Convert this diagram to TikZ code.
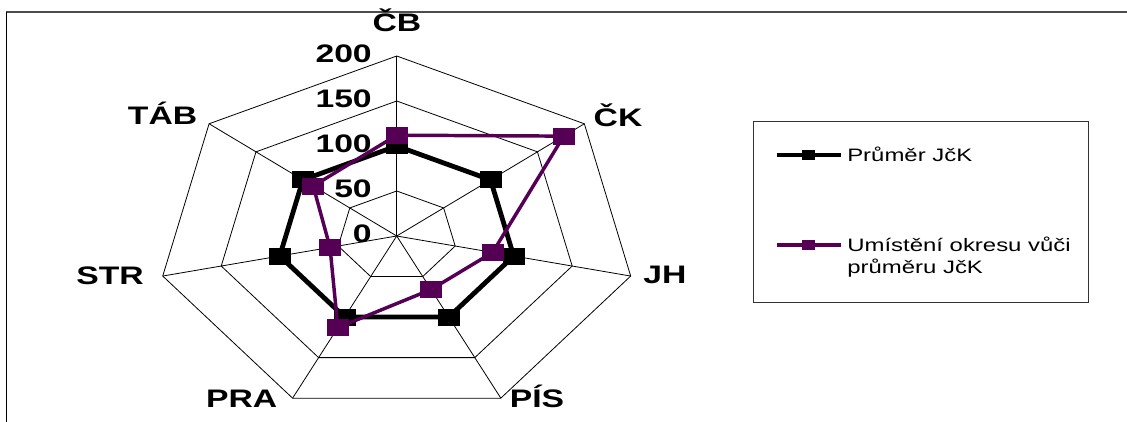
\documentclass[tikz,border=0pt]{standalone}
\usepackage{fontspec}
\setmainfont{Liberation Sans}[FakeStretch=1.33]
\usepackage{tikz}
\definecolor{fialova}{RGB}{85,0,85}
\tikzset{
  sit/.style={black, line width=0.6pt},
  prumer/.style={black, line width=3.6pt, line join=round},
  umisteni/.style={fialova, line width=2.6pt, line join=round},
  bod/.style={rectangle, inner sep=0pt, minimum width=16.5pt, minimum height=12.75pt},
  legbod/.style={rectangle, inner sep=0pt, minimum width=9.75pt, minimum height=7.5pt},
  popis/.style={font=\fontsize{19}{22}\selectfont\bfseries, inner sep=0pt, text height=0.72em, text depth=0pt},
  legtext/.style={font=\fontsize{13.5}{16.5}\selectfont, inner sep=0pt, align=left},
}

\begin{document}
\begin{tikzpicture}[x=0.75pt, y=0.75pt]
\useasboundingbox (0,0) rectangle (1127,421);
\def\cx{396.7}
\def\cy{185}
\coordinate (stred) at (\cx,\cy);

% ram grafu
\draw[black!70, line width=1.5pt] (6,409) -- (1130,409);
\draw[line width=0.75pt] (6,409) -- (6,-5);

% sit
\foreach \i in {0,...,6} {
  \coordinate (osa\i) at ({\cx+240*cos(90-360/7*\i)}, {\cy+180*sin(90-360/7*\i)});
  \draw[sit] (stred) -- (osa\i);
}
\foreach \r in {50,100,150,200}
  \draw[sit] ({\cx},{\cy+0.9*\r}) \foreach \i in {1,...,6}{ -- ({\cx+1.2*\r*cos(90-360/7*\i)},{\cy+0.9*\r*sin(90-360/7*\i)}) } -- cycle;

% stupnice
\foreach \r in {0,50,...,200}
  \node[popis, anchor=east] at (372, {\cy+0.9*\r-2}) {\r};

% popisky os
\node[popis] (cb)  at (397,394.3) {ČB};
\node[popis] (ck)  at (618,299.3) {ČK};
\node[popis] (jh)  at (665,142.3) {JH};
\node[popis] (pis) at (537,18.5)  {PÍS};
\node[popis] (pra) at (241.6,18.5) {PRA};
\node[popis] (str) at (110,141)   {STR};
\node[popis] (tab) at (162.6,301) {TÁB};

% prumer JcK
\foreach \v [count=\i from 0] in {100,100,100,100,100,100,100}
  \coordinate (pr\i) at ({\cx+1.2*\v*cos(90-360/7*\i)}, {\cy+0.9*\v*sin(90-360/7*\i)});
\draw[prumer] (pr0) -- (pr1) -- (pr2) -- (pr3) -- (pr4) -- (pr5) -- (pr6) -- cycle;
\foreach \i in {0,...,6}
  \node[bod, fill=black] (mpr\i) at (pr\i) {};

% umisteni okresu
\foreach \v [count=\i from 0] in {112,178,82,66,113,57,89}
  \coordinate (um\i) at ({\cx+1.2*\v*cos(90-360/7*\i)}, {\cy+0.9*\v*sin(90-360/7*\i)});
\draw[umisteni] (um0) -- (um1) -- (um2) -- (um3) -- (um4) -- (um5) -- (um6) -- cycle;
\foreach \i in {0,...,6}
  \node[bod, fill=fialova] (mum\i) at (um\i) {};

% legenda
\draw[black!80, line width=0.75pt] (753,299) rectangle (1088,118);
\coordinate (la1) at (777,266);
\coordinate (lb1) at (841,266);
\draw[prumer, line width=2.4pt] (la1) -- (lb1);
\node[legbod, fill=black] (lm1) at (808,266) {};
\node[legtext, anchor=base west] (lt1) at (847,259.5) {Průměr JčK};
\coordinate (la2) at (777,176);
\coordinate (lb2) at (841,176);
\draw[umisteni, line width=2.4pt] (la2) -- (lb2);
\node[legbod, fill=fialova] (lm2) at (808,176) {};
\node[legtext, anchor=base west] (lt2) at (847,147.5) {Umístění okresu vůči\\průměru JčK};
\end{tikzpicture}
\end{document}
